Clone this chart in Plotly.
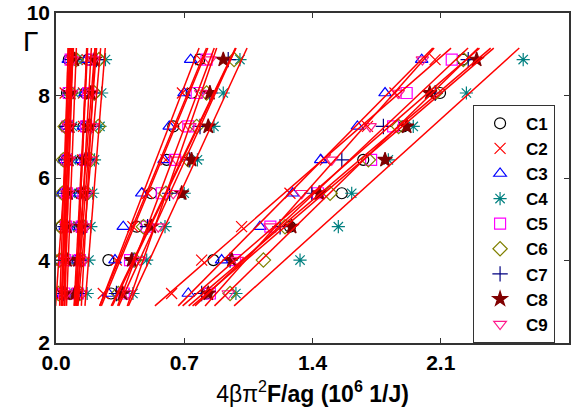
import numpy as np
import plotly.graph_objects as go

# Gamma levels shared by every series
gamma = [3.2, 4.01, 4.82, 5.63, 6.44, 7.25, 8.06, 8.87]

names = ["C1", "C2", "C3", "C4", "C5", "C6", "C7", "C8", "C9"]

# x = 4*beta*pi^2*F/(a*g) in 10^6 1/J, four groups per series
grp_a = {
    "C1": [0.030, 0.025, 0.030, 0.040, 0.045, 0.050, 0.060, 0.070],
    "C2": [0.035, 0.030, 0.045, 0.050, 0.055, 0.060, 0.050, 0.085],
    "C3": [0.040, 0.045, 0.050, 0.030, 0.045, 0.055, 0.070, 0.067],
    "C4": [0.060, 0.070, 0.075, 0.080, 0.085, 0.090, 0.100, 0.115],
    "C5": [0.045, 0.050, 0.055, 0.060, 0.060, 0.065, 0.070, 0.080],
    "C6": [0.013, 0.020, 0.025, 0.035, 0.040, 0.050, 0.080, 0.110],
    "C7": [0.040, 0.040, 0.050, 0.055, 0.060, 0.060, 0.075, 0.090],
    "C8": [0.050, 0.060, 0.060, 0.065, 0.070, 0.075, 0.080, 0.100],
    "C9": [0.055, 0.050, 0.060, 0.065, 0.070, 0.070, 0.085, 0.090],
}
grp_b = {
    "C1": [0.110, 0.120, 0.130, 0.130, 0.140, 0.150, 0.160, 0.175],
    "C2": [0.115, 0.120, 0.125, 0.140, 0.145, 0.150, 0.150, 0.170],
    "C3": [0.104, 0.110, 0.120, 0.130, 0.140, 0.150, 0.158, 0.167],
    "C4": [0.170, 0.180, 0.190, 0.200, 0.210, 0.240, 0.249, 0.270],
    "C5": [0.120, 0.130, 0.140, 0.150, 0.160, 0.165, 0.176, 0.195],
    "C6": [0.130, 0.140, 0.150, 0.170, 0.190, 0.231, 0.210, 0.235],
    "C7": [0.120, 0.130, 0.150, 0.160, 0.170, 0.190, 0.200, 0.220],
    "C8": [0.104, 0.120, 0.140, 0.150, 0.160, 0.180, 0.190, 0.210],
    "C9": [0.140, 0.150, 0.160, 0.170, 0.190, 0.200, 0.195, 0.205],
}
grp_m = {
    "C1": [0.300, 0.286, 0.440, 0.520, 0.604, 0.640, 0.740, 0.782],
    "C2": [0.258, 0.330, 0.420, 0.500, 0.600, 0.660, 0.690, 0.790],
    "C3": [0.286, 0.322, 0.367, 0.468, 0.590, 0.618, 0.699, 0.735],
    "C4": [0.420, 0.495, 0.595, 0.700, 0.772, 0.862, 0.913, 1.004],
    "C5": [0.370, 0.404, 0.495, 0.577, 0.650, 0.722, 0.768, 0.822],
    "C6": [0.340, 0.430, 0.477, 0.600, 0.722, 0.768, 0.822, 0.972],
    "C7": [0.330, 0.420, 0.500, 0.620, 0.730, 0.786, 0.840, 0.940],
    "C8": [0.364, 0.413, 0.520, 0.686, 0.740, 0.831, 0.840, 0.913],
    "C9": [0.395, 0.458, 0.558, 0.640, 0.659, 0.731, 0.790, 0.840],
}
grp_r = {
    "C1": [0.822, 0.859, 1.277, 1.560, 1.677, 1.896, 2.096, 2.220],
    "C2": [0.631, 0.795, 1.013, 1.277, 1.470, 1.700, 1.850, 2.069],
    "C3": [0.722, 0.904, 1.113, 1.292, 1.445, 1.645, 1.796, 1.996],
    "C4": [0.982, 1.332, 1.541, 1.614, 1.814, 1.950, 2.240, 2.550],
    "C5": [0.840, 0.977, 1.170, 1.430, 1.720, 1.840, 1.914, 2.160],
    "C6": [0.950, 1.132, 1.250, 1.496, 1.705, 1.870, 2.070, 2.223],
    "C7": [0.795, 0.950, 1.223, 1.396, 1.560, 1.787, 2.070, 2.250],
    "C8": [0.831, 0.960, 1.286, 1.437, 1.796, 1.914, 2.040, 2.296],
    "C9": [0.940, 0.990, 1.168, 1.341, 1.505, 1.714, 1.868, 2.000],
}
groups = [grp_a, grp_b, grp_m, grp_r]

styles = {
    "C1": ("circle-open", "#000000"),
    "C2": ("x-thin-open", "#ff0000"),
    "C3": ("triangle-up-open", "#0000ff"),
    "C4": ("asterisk-open", "#008080"),
    "C5": ("square-open", "#ff00ff"),
    "C6": ("diamond-open", "#808000"),
    "C7": ("cross-thin-open", "#000080"),
    "C8": ("star", "#800000"),
    "C9": ("triangle-down-open", "#ff1a8c"),
}

FONT = "Liberation Sans, Arial, sans-serif"

fig = go.Figure()

for n in names:
    sym, col = styles[n]
    xs, ys = [], []
    for g in groups:
        xs += g[n]
        ys += gamma
    fig.add_trace(go.Scatter(
        x=xs, y=ys, mode="markers", name="<b>" + n + "</b>",
        marker=dict(symbol=sym, size=11, color=col,
                    line=dict(width=1.2, color=col)),
    ))

# Linear fits x = a + b*Gamma for every series and group
g_lo, g_hi = 2.9, 9.15
lx, ly = [], []
for n in names:
    for g in groups:
        b, a = np.polyfit(gamma, g[n], 1)
        lx += [a + b * g_lo, a + b * g_hi, None]
        ly += [g_lo, g_hi, None]
fig.add_trace(go.Scatter(x=lx, y=ly, mode="lines", showlegend=False,
                         line=dict(color="#ff0000", width=1.5),
                         hoverinfo="skip"))

tickfont = dict(family=FONT, size=21, color="#000")

fig.update_layout(
    width=583, height=407,
    margin=dict(l=56, r=14, t=13, b=64),
    paper_bgcolor="white", plot_bgcolor="white",
    font=dict(family=FONT, color="#000"),
    legend=dict(x=0.813, y=0.722, xanchor="left", yanchor="top",
                bordercolor="#333", borderwidth=1, bgcolor="white",
                font=dict(family=FONT, size=17, color="#000"),
                itemwidth=42, tracegroupgap=0),
    xaxis=dict(range=[0, 2.8], tickvals=[0, 0.7, 1.4, 2.1, 2.8],
               ticktext=["<b>0.0</b>", "<b>0.7</b>", "<b>1.4</b>",
                         "<b>2.1</b>", "<b>2.8</b>"],
               ticks="inside", ticklen=5, tickcolor="#333",
               showline=True, linecolor="#333", linewidth=1.5,
               mirror="ticks", showgrid=False, zeroline=False,
               tickfont=tickfont, automargin=False,
               title=dict(text="4βπ<sup>2</sup><b>F/ag (10<sup>6</sup> 1/J)</b>",
                          font=dict(family=FONT, size=23, color="#000"),
                          standoff=16)),
    yaxis=dict(range=[2, 10], tickvals=[2, 4, 6, 8, 10],
               ticktext=["<b>2</b>", "<b>4</b>", "<b>6</b>", "<b>8</b>", "<b>10</b>"],
               ticks="inside", ticklen=5, tickcolor="#333",
               showline=True, linecolor="#333", linewidth=1.5,
               mirror="ticks", showgrid=False, zeroline=False,
               tickfont=tickfont, automargin=False),
    annotations=[dict(text="Γ", xref="paper", yref="paper",
                      x=-0.05, y=0.915, xanchor="center", yanchor="middle",
                      showarrow=False,
                      font=dict(family=FONT, size=28, color="#000"))],
)

fig.write_html("out.html")
